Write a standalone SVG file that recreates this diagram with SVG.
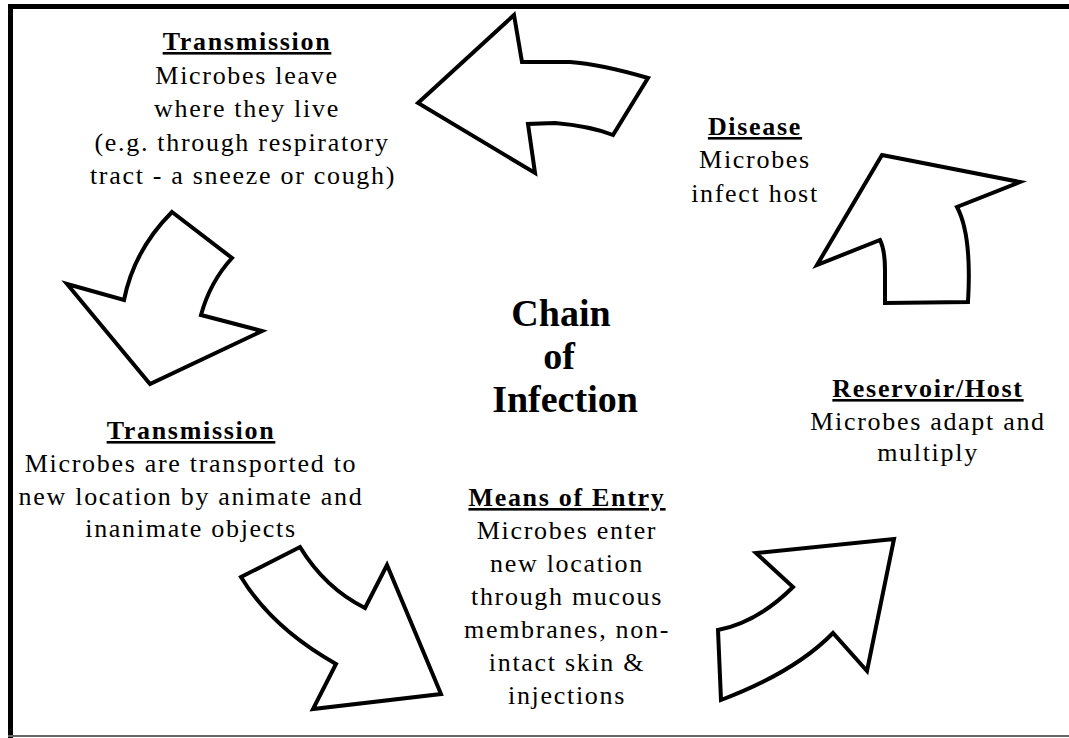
<svg xmlns="http://www.w3.org/2000/svg" width="1069" height="738" viewBox="0 0 1069 738">
  <style>
    .arrow { fill: #fff; stroke: #000; stroke-width: 4; stroke-linejoin: miter; stroke-miterlimit: 10; }
    .t { font-family: "Liberation Serif", "Times New Roman", serif; font-size: 26px; letter-spacing: 1.7px; text-anchor: middle; fill: #000; }
    .h { font-weight: bold; text-decoration: underline; }
    .big { font-family: "Liberation Serif", "Times New Roman", serif; font-size: 38px; font-weight: bold; text-anchor: middle; fill: #000; }
  </style>
  <rect x="0" y="0" width="1069" height="738" fill="#fff"/>
  <g id="frame">
    <rect x="8" y="4" width="1061" height="5" fill="#000"/>
    <rect x="8" y="4" width="5" height="734" fill="#000"/>
    <rect x="8" y="735" width="1061" height="2" fill="#666"/>
  </g>
  <g id="connectors">
    <path class="arrow" d="M418,103 L514,15 L522,62 L570,62 Q600,64 648,78 L613,135 Q590,126 555,123 L528,124 L535,173 Z"/>
    <path class="arrow" d="M172,212 L232,258 Q210,282 201,315 L262,331 L150,384 L67,284 L124,300 Q134,250 172,212 Z"/>
    <path class="arrow" d="M241,577 L300,547 Q325,588 365,608 L387,565 L441,694 L313,709 L336,664 Q272,628 241,577 Z"/>
    <path class="arrow" d="M718,630 Q758,622 793,587 L756,553 L894,539 L867,671 L833,633 Q795,672 721,700 Z"/>
    <path class="arrow" d="M882,155 L1020,182 L957,207 Q972,235 968,302 L885,303 L885,270 Q885,250 880,240 L817,265 Z"/>
  </g>
  <g id="title">
    <text class="big" x="561" y="326">Chain</text>
    <text class="big" x="559" y="369">of</text>
    <text class="big" x="565" y="412">Infection</text>
  </g>
  <g id="transmission-leave">
    <text class="t h" x="247" y="50">Transmission</text>
    <text class="t" x="247" y="84">Microbes leave</text>
    <text class="t" x="247" y="117">where they live</text>
    <text class="t" x="242" y="151">(e.g. through respiratory</text>
    <text class="t" x="243" y="184">tract - a sneeze or cough)</text>
  </g>
  <g id="disease">
    <text class="t h" x="755" y="135">Disease</text>
    <text class="t" x="755" y="168">Microbes</text>
    <text class="t" x="755" y="202">infect host</text>
  </g>
  <g id="reservoir-host">
    <text class="t h" x="928" y="397">Reservoir/Host</text>
    <text class="t" x="928" y="430">Microbes adapt and</text>
    <text class="t" x="928" y="461">multiply</text>
  </g>
  <g id="transmission-transport">
    <text class="t h" x="191" y="439">Transmission</text>
    <text class="t" x="191" y="472">Microbes are transported to</text>
    <text class="t" x="191" y="505">new location by animate and</text>
    <text class="t" x="191" y="537">inanimate objects</text>
  </g>
  <g id="means-of-entry">
    <text class="t h" x="567" y="506">Means of Entry</text>
    <text class="t" x="567" y="539">Microbes enter</text>
    <text class="t" x="567" y="572">new location</text>
    <text class="t" x="567" y="605">through mucous</text>
    <text class="t" x="567" y="638">membranes, non-</text>
    <text class="t" x="567" y="671">intact skin &amp;</text>
    <text class="t" x="567" y="704">injections</text>
  </g>
</svg>
